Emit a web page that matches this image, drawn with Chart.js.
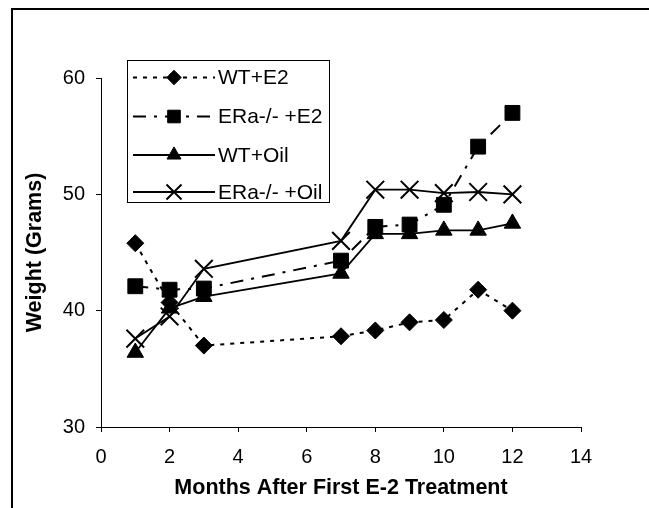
<!DOCTYPE html>
<html>
<head>
<meta charset="utf-8">
<script src="https://cdn.jsdelivr.net/npm/chart.js@4"></script>
<style>
  html, body { margin: 0; padding: 0; background: #fff; }
  #wrap { width: 649px; height: 508px; }
</style>
</head>
<body>
<div id="wrap"><canvas id="chart" width="649" height="508"></canvas></div>
<script>
// ================= DATA =================
const months   = [1, 2, 3, 7, 8, 9, 10, 11, 12];
const wtE2     = [45.8, 40.7, 37.0, 37.8, 38.3, 39.0, 39.2, 41.8, 40.0];
const eraE2    = [42.1, 41.8, 41.9, 44.3, 47.2, 47.4, 49.1, 54.1, 57.0];
const wtOil    = [36.4, 40.2, 41.2, 43.2, 46.6, 46.6, 46.9, 46.9, 47.5];
const eraOil   = [37.6, 39.5, 43.6, 46.0, 50.4, 50.4, 50.1, 50.2, 50.0];
const seriesLabels = ['WT+E2', 'ERa-/- +E2', 'WT+Oil', 'ERa-/- +Oil'];
const xTicks = [0, 2, 4, 6, 8, 10, 12, 14];
const yTicks = [30, 40, 50, 60];

const FONT = "'Liberation Sans', Arial, sans-serif";

function toPoints(vals) {
    return months.map((m, i) => ({ x: m, y: vals[i] }));
}

const STYLES = [
    { dash: [4, 6],         style: 'rectRot',  radius: 8.5, width: 2 },
    { dash: [13, 8, 3, 8],  style: 'rect',     radius: 10.5, width: 2 },
    { dash: [],             style: 'triangle', radius: 9.5, width: 1.8 },
    { dash: [],             style: 'crossRot', radius: 12.5, width: 1.8 }
];

const datasets = [wtE2, eraE2, wtOil, eraOil].map((vals, i) => ({
    label: seriesLabels[i],
    data: toPoints(vals),
    borderColor: '#000',
    backgroundColor: '#000',
    borderWidth: STYLES[i].width,
    borderDash: STYLES[i].dash,
    tension: 0,
    pointStyle: STYLES[i].style,
    pointRadius: STYLES[i].radius,
    pointBackgroundColor: '#000',
    pointBorderColor: '#000',
    pointBorderWidth: i === 3 ? 2 : 1,
    fill: false
}));

// frame round the picture (only top + left are visible in the source)
const framePlugin = {
    id: 'frame',
    afterDraw(chart) {
        const ctx = chart.ctx;
        ctx.save();
        ctx.strokeStyle = '#000';
        ctx.lineWidth = 2;
        ctx.beginPath();
        ctx.moveTo(12, 508);
        ctx.lineTo(12, 9);
        ctx.lineTo(649, 9);
        ctx.stroke();
        ctx.restore();
    }
};

// legend box inside the plot, excel style
const legendPlugin = {
    id: 'boxLegend',
    afterDraw(chart) {
        const ctx = chart.ctx;
        const a = chart.chartArea;
        const bx = a.left + 26, by = a.top - 18, bw = 202, bh = 142;
        ctx.save();
        ctx.fillStyle = '#fff';
        ctx.fillRect(bx, by, bw, bh);
        ctx.strokeStyle = '#000';
        ctx.lineWidth = 1;
        ctx.strokeRect(bx + 0.5, by + 0.5, bw, bh);

        const rows = [17.5, 56.5, 95, 132];
        chart.data.datasets.forEach((ds, i) => {
            const y = by + rows[i];
            const x0 = bx + 6, x1 = bx + 88, mx = (x0 + x1) / 2;
            ctx.strokeStyle = '#000';
            ctx.lineWidth = ds.borderWidth;
            ctx.setLineDash(ds.borderDash);
            ctx.beginPath();
            ctx.moveTo(x0, y);
            ctx.lineTo(x1, y);
            ctx.stroke();
            ctx.setLineDash([]);
            ctx.fillStyle = '#000';
            ctx.lineWidth = ds.pointBorderWidth;
            Chart.helpers.drawPoint(ctx, {
                pointStyle: ds.pointStyle,
                radius: ds.pointRadius * 0.85,
                borderWidth: ds.pointBorderWidth,
                rotation: 0
            }, mx, y);
            ctx.fillStyle = '#000';
            ctx.font = '21px ' + FONT;
            ctx.textBaseline = 'middle';
            ctx.textAlign = 'left';
            ctx.fillText(ds.label, bx + 91, y + 1);
        });
        ctx.restore();
    }
};

new Chart(document.getElementById('chart'), {
    type: 'line',
    data: { datasets },
    options: {
        responsive: false,
        animation: false,
        layout: { padding: { top: 78, right: 68, bottom: 0, left: 0 } },
        plugins: { legend: { display: false }, tooltip: { enabled: false } },
        scales: {
            x: {
                type: 'linear',
                min: 0, max: 14,
                afterBuildTicks: s => { s.ticks = xTicks.map(v => ({ value: v })); },
                afterFit: s => { s.height = 81; },
                grid: { drawOnChartArea: false, drawTicks: true, tickLength: 5, color: '#000' },
                border: { display: true, color: '#000', width: 1 },
                ticks: { color: '#000', font: { family: FONT, size: 20 }, padding: 13, maxRotation: 0 },
                title: {
                    display: true,
                    text: 'Months After First E-2 Treatment',
                    color: '#000',
                    font: { family: FONT, size: 21.5, weight: 'bold' },
                    padding: { top: 0, bottom: 7 }
                }
            },
            y: {
                min: 30, max: 60,
                afterBuildTicks: s => { s.ticks = yTicks.map(v => ({ value: v })); },
                afterFit: s => { s.width = 101; },
                grid: { drawOnChartArea: false, drawTicks: true, tickLength: 5, color: '#000' },
                border: { display: true, color: '#000', width: 1 },
                ticks: { color: '#000', font: { family: FONT, size: 20 }, padding: 11 },
                title: {
                    display: true,
                    text: 'Weight (Grams)',
                    color: '#000',
                    font: { family: FONT, size: 21.5, weight: 'bold' },
                    padding: { top: 22, bottom: 0 }
                }
            }
        }
    },
    plugins: [framePlugin, legendPlugin]
});
</script>
</body>
</html>
